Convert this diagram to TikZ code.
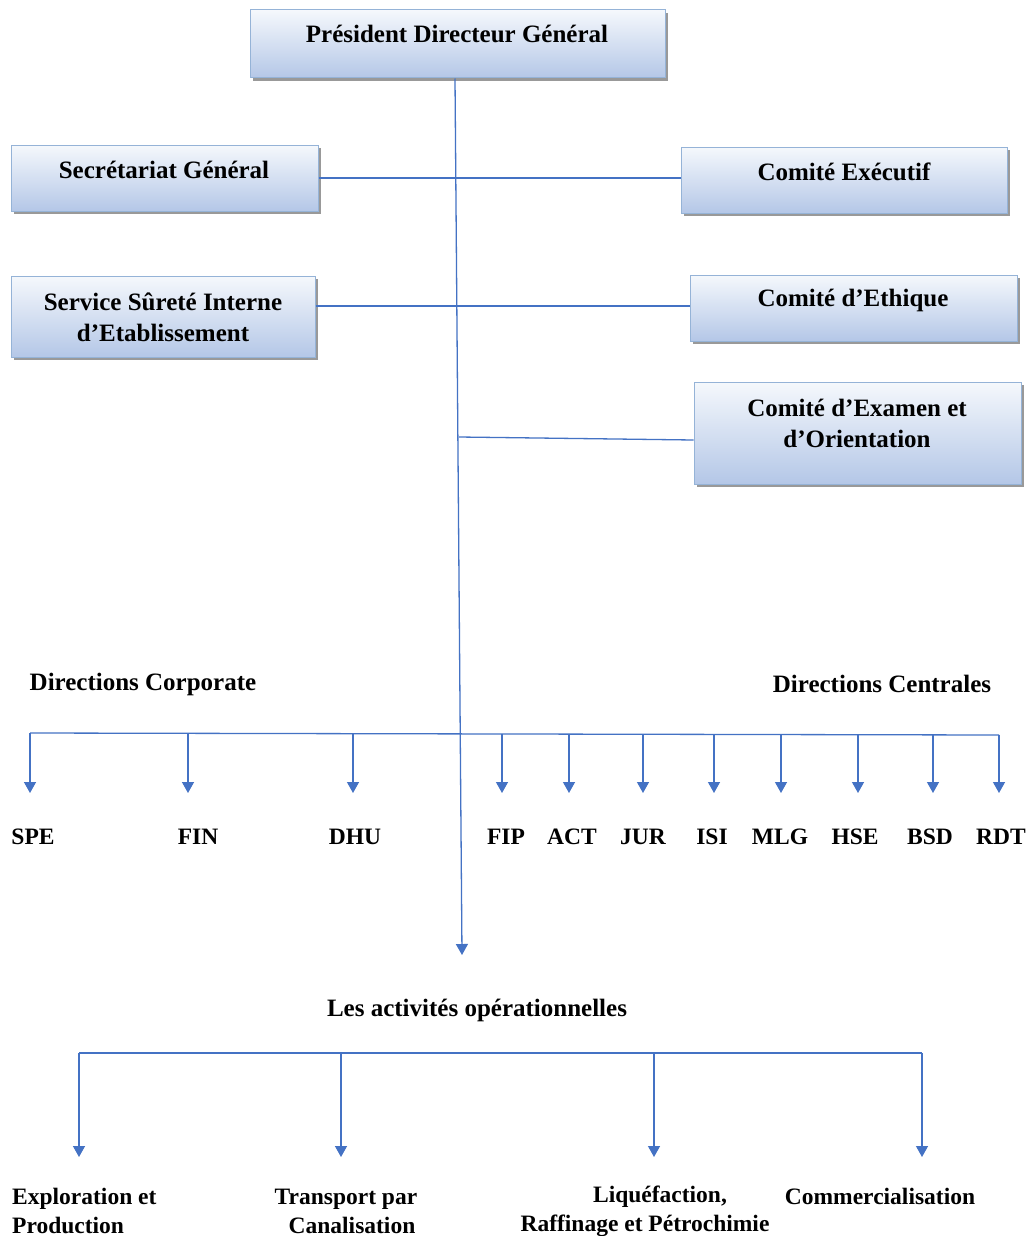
\documentclass[tikz,border=0pt]{standalone}
\usepackage{fontspec}
\setmainfont{Liberation Serif}
\usetikzlibrary{shadows,arrows.meta,calc}
\definecolor{ln}{HTML}{4472C4}
\definecolor{bxtop}{HTML}{F5F8FC}
\definecolor{bxbot}{HTML}{B4C7E7}
\definecolor{bxdraw}{HTML}{95B3D7}
\tikzset{
 box/.style={draw=bxdraw, line width=1pt, top color=bxtop, bottom color=bxbot, inner sep=0pt,
   drop shadow={shadow xshift=3pt, shadow yshift=-3pt, fill=black!50, opacity=0.8}},
 txt/.style={font=\fontsize{25}{31}\selectfont\bfseries, inner sep=0pt, align=center},
 smalltxt/.style={txt, font=\fontsize{23.5}{29}\selectfont\bfseries},
 link/.style={draw=ln, line width=1.3pt},
 arr/.style={link, -{Triangle[width=12pt,length=11pt]}},
}
\begin{document}
\begin{tikzpicture}[x=1pt,y=-1pt]
\useasboundingbox[fill=white] (0,0) rectangle (1030,1236);
% boxes
\node[box, minimum width=415pt, minimum height=68pt] (pdg) at (457.5,44) {};
\node[box, minimum width=307pt, minimum height=66pt] (sg) at (164.5,178) {};
\node[box, minimum width=326pt, minimum height=66pt] (ce) at (844,180) {};
\node[box, minimum width=304pt, minimum height=81pt] (ss) at (163,316.5) {};
\node[box, minimum width=327pt, minimum height=66pt] (cet) at (853.5,308) {};
\node[box, minimum width=327pt, minimum height=102pt] (ceo) at (857.5,433) {};
% box texts
\node[txt] (tpdg) at (457,34) {Président Directeur Général};
\node[txt] (tsg) at (164,170) {Secrétariat Général};
\node[txt] (tce) at (844,172) {Comité Exécutif};
\node[txt] (tss) at (163,317) {Service Sûreté Interne\\d’Etablissement};
\node[txt] (tcet) at (853,300) {Comité d’Ethique};
\node[txt] (tceo) at (857,423) {Comité d’Examen et\\d’Orientation};
% trunk
\coordinate (t0) at (455,78);
\coordinate (t1) at (462,955);
\draw[arr] (pdg.south -| t0) -- (t1);
% side links
\draw[link] (sg.east) -- (sg.east -| ce.west);
\coordinate (y306) at (0,306);
\draw[link] (ss.east |- y306) -- (cet.west |- y306);
\coordinate (j3) at (459,437);
\coordinate (y440) at (0,440);
\draw[link] (j3) -- (ceo.west |- y440);
% directions
\node[txt] (dcorp) at (143,684) {Directions Corporate};
\node[txt] (dcent) at (882,684) {Directions Centrales};
\coordinate (b0) at (30,733);
\coordinate (b1) at (999,735);
\draw[link] (b0) -- (b1);
\foreach \x/\lx/\t in {30/33/SPE,188/198/FIN,353/355/DHU,502/506/FIP,569/572/ACT,643/643/JUR,714/712/ISI,781/780/MLG,858/855/HSE,933/930/BSD,999/1001/RDT}{
  \draw[arr] (\x,{733+2*(\x-30)/969}) -- (\x,793);
  \node[smalltxt] (l\t) at (\lx,837) {\t};
}
% operational activities
\node[txt] (act) at (477,1010) {Les activités opérationnelles};
\coordinate (c0) at (79,1053);
\coordinate (c1) at (922,1053);
\draw[link] (c0) -- (c1);
\foreach \x in {79,341,654,922}{
  \draw[arr] (\x,1053) -- (\x,1157);
}
\node[smalltxt, align=left, anchor=west] (ep) at (12,1211) {Exploration et\\Production};
\node[smalltxt] (tc) at (346,1211) {Transport par\\\hspace*{12pt}Canalisation};
\node[smalltxt] (lrp) at (645,1211) {\hspace*{30pt}Liquéfaction,\\Raffinage et Pétrochimie};
\node[smalltxt] (com) at (880,1196) {Commercialisation};
\end{tikzpicture}
\end{document}
